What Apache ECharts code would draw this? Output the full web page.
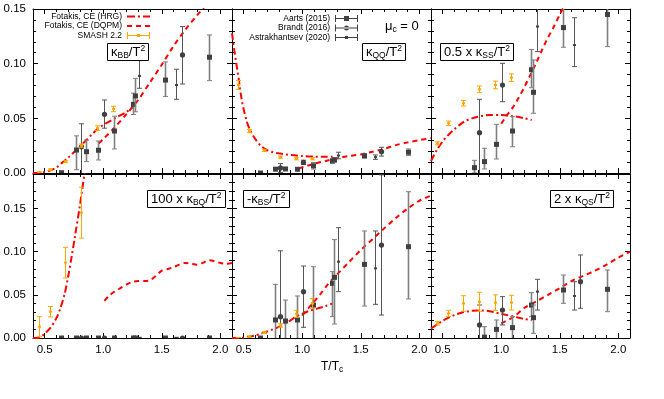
<!DOCTYPE html>
<html>
<head>
<meta charset="utf-8">
<title>susceptibilities vs T/Tc</title>
<script src="https://cdn.jsdelivr.net/npm/echarts@6.0.0/dist/echarts.min.js"></script>
<style>
  html, body { margin: 0; padding: 0; background: #ffffff; }
  #chart { width: 664px; height: 399px; }
</style>
</head>
<body>
<div id="chart"></div>
<script>
// temperatures (T/Tc) of the data sets
const aartsT = [0.64, 0.767, 0.853, 0.957, 1.095, 1.254, 1.27, 1.53, 1.905];
const brandtT = [0.807, 1.004, 1.67];
const astrT = [1.305, 1.625];
const smashT = [0.45, 0.543, 0.67, 0.806, 0.945, 1.08];

// kappa_BB / T^2
const bbHrgT = [0.4, 0.45, 0.5, 0.55, 0.6, 0.65, 0.7, 0.75, 0.8, 0.85, 0.9, 0.95, 1.0, 1.05, 1.1, 1.15, 1.2, 1.26];
const bbHrg = [0.0, 0.0003, 0.001, 0.0025, 0.005, 0.0095, 0.014, 0.019, 0.024, 0.0295, 0.035, 0.040, 0.044, 0.047, 0.050, 0.053, 0.056, 0.061];
const bbDqpmT = [0.96, 1.0, 1.1, 1.2, 1.3, 1.4, 1.5, 1.6, 1.7, 1.8, 1.9];
const bbDqpm = [0.027, 0.031, 0.042, 0.054, 0.067, 0.083, 0.099, 0.116, 0.131, 0.144, 0.156];
const bbAarts = [0.0003, 0.021, 0.0195, 0.0208, 0.0384, 0.0628, 0.0705, 0.085, 0.1059];
const bbAartsLo = [0.0, 0.003, 0.0104, 0.0119, 0.022, 0.0535, 0.056, 0.070, 0.0845];
const bbAartsHi = [0.0006, 0.034, 0.030, 0.0293, 0.052, 0.073, 0.0866, 0.1016, 0.1263];
const bbBrandt = [0.024, 0.0537, 0.108];
const bbBrandtLo = [-0.003, 0.041, 0.0814];
const bbBrandtHi = [0.045, 0.0668, 0.1339];
const bbAstr = [0.0888, 0.0805];
const bbAstrLo = [0.0775, 0.0674];
const bbAstrHi = [0.106, 0.0949];
const bbSmash = [0.0005, 0.003, 0.0105, 0.025, 0.041, 0.0586];
const bbSmashErr = [0.0005, 0.0008, 0.001, 0.0015, 0.0022, 0.0025];

// kappa_QQ / T^2
const qqHrgT = [0.4, 0.42, 0.44, 0.46, 0.48, 0.5, 0.53, 0.555, 0.6, 0.65, 0.7, 0.75, 0.8, 0.9, 1.0, 1.1, 1.2, 1.26];
const qqHrg = [0.128, 0.112, 0.098, 0.084, 0.069, 0.058, 0.046, 0.039, 0.031, 0.0245, 0.021, 0.019, 0.018, 0.0165, 0.0155, 0.015, 0.0148, 0.0148];
const qqDqpmT = [0.97, 1.0, 1.1, 1.2, 1.3, 1.4, 1.5, 1.6, 1.7, 1.8, 1.9, 2.0, 2.1];
const qqDqpm = [0.0043, 0.0052, 0.0085, 0.011, 0.0135, 0.0155, 0.017, 0.0195, 0.022, 0.0255, 0.028, 0.030, 0.032];
const qqAarts = [0.0, 0.0035, 0.0037, 0.0034, 0.0066, 0.011, 0.012, 0.0157, 0.019];
const qqAartsLo = [-0.0005, 0.0022, 0.0025, 0.0022, 0.0036, 0.009, 0.010, 0.0137, 0.016];
const qqAartsHi = [0.0005, 0.0048, 0.0049, 0.0046, 0.0096, 0.013, 0.014, 0.0177, 0.022];
const qqBrandt = [0.0046, 0.0097, 0.0195];
const qqBrandtLo = [0.0006, 0.0077, 0.0155];
const qqBrandtHi = [0.0086, 0.0117, 0.0235];
const qqAstr = [0.016, 0.0145];
const qqAstrLo = [0.013, 0.0125];
const qqAstrHi = [0.019, 0.0165];
const qqSmash = [0.0805, 0.0384, 0.0207, 0.0145, 0.013, 0.013];
const qqSmashErr = [0.004, 0.0015, 0.001, 0.001, 0.001, 0.001];

// 0.5 x kappa_SS / T^2
const ssHrgT = [0.4, 0.45, 0.5, 0.55, 0.6, 0.65, 0.7, 0.75, 0.8, 0.85, 0.9, 1.0, 1.1, 1.2, 1.26];
const ssHrg = [0.011, 0.021, 0.029, 0.035, 0.040, 0.0445, 0.048, 0.050, 0.0515, 0.0525, 0.053, 0.053, 0.052, 0.050, 0.0485];
const ssDqpmT = [1.0, 1.05, 1.1, 1.15, 1.2, 1.25, 1.3, 1.35, 1.4, 1.45, 1.5, 1.53];
const ssDqpm = [0.045, 0.053, 0.060, 0.069, 0.079, 0.090, 0.101, 0.113, 0.124, 0.134, 0.145, 0.151];
const ssAarts = [null, 0.0049, 0.0104, 0.0262, 0.0384, 0.0945, 0.0738, 0.133, 0.145];
const ssAartsLo = [null, 0.0, 0.0037, 0.0128, 0.024, 0.078, 0.0546, 0.115, 0.1156];
const ssAartsHi = [null, 0.0116, 0.0226, 0.0445, 0.0515, 0.113, 0.1034, 0.16, 0.175];
const ssBrandt = [0.0369, 0.0805, null];
const ssBrandtLo = [-0.003, 0.0652, null];
const ssBrandtHi = [0.0674, 0.1003, null];
const ssAstr = [0.134, 0.117];
const ssAstrLo = [0.111, 0.0973];
const ssAstrHi = [0.16, 0.142];
const ssSmash = [0.0271, 0.0455, 0.0638, 0.0765, 0.0805, 0.0872];
const ssSmashErr = [0.0015, 0.002, 0.0025, 0.003, 0.0035, 0.0035];

// 100 x kappa_BQ / T^2
const bqHrgT = [0.4, 0.43, 0.46, 0.5, 0.55, 0.6, 0.63, 0.67, 0.7, 0.73, 0.76, 0.8, 0.84, 0.86];
const bqHrg = [0.0, 0.0, 0.0005, 0.005, 0.012, 0.023, 0.033, 0.051, 0.071, 0.094, 0.119, 0.153, 0.19, 0.205];
const bqDqpmT = [1.01, 1.05, 1.1, 1.15, 1.2, 1.25, 1.3, 1.35, 1.4, 1.45, 1.5, 1.55, 1.6, 1.65, 1.7, 1.75, 1.8, 1.85, 1.9, 1.95, 2.0, 2.05, 2.1];
const bqDqpm = [0.043, 0.049, 0.054, 0.058, 0.062, 0.065, 0.066, 0.066, 0.067, 0.072, 0.078, 0.080, 0.082, 0.085, 0.087, 0.086, 0.085, 0.087, 0.090, 0.089, 0.087, 0.086, 0.087];
const bqAarts = [0, 0, 0, 0, 0, 0, 0, 0, 0];
const bqAartsLo = [-0.0008, -0.0008, -0.0008, -0.0008, -0.0008, -0.0008, -0.0008, -0.0008, -0.0008];
const bqAartsHi = [0.0008, 0.0008, 0.0008, 0.0008, 0.0008, 0.0008, 0.0008, 0.0008, 0.0008];
const bqBrandt = [0, 0, 0];
const bqBrandtLo = [-0.0008, -0.0008, -0.0008];
const bqBrandtHi = [0.0008, 0.0008, 0.0008];
const bqAstr = [0, 0];
const bqAstrLo = [-0.0008, -0.0008];
const bqAstrHi = [0.0008, 0.0008];
const bqSmash = [0.0131, 0.0305, 0.0873, 0.1452, null, null];
const bqSmashErr = [0.0116, 0.006, 0.0177, 0.0295, null, null];

// -kappa_BS / T^2
const bsHrgT = [0.4, 0.45, 0.5, 0.55, 0.6, 0.65, 0.7, 0.75, 0.8, 0.85, 0.9, 0.95, 1.0, 1.05, 1.1, 1.15, 1.2, 1.26];
const bsHrg = [0.0, 0.0, 0.0005, 0.0015, 0.003, 0.005, 0.0075, 0.010, 0.013, 0.0165, 0.0205, 0.025, 0.028, 0.031, 0.033, 0.035, 0.037, 0.040];
const bsDqpmT = [1.0, 1.05, 1.1, 1.15, 1.2, 1.25, 1.3, 1.4, 1.5, 1.6, 1.7, 1.8, 1.9, 2.0, 2.1];
const bsDqpm = [0.026, 0.034, 0.042, 0.050, 0.059, 0.067, 0.074, 0.088, 0.102, 0.1145, 0.127, 0.139, 0.150, 0.159, 0.165];
const bsAarts = [0.0, 0.0209, 0.0197, 0.0209, 0.0382, 0.0633, 0.0703, 0.0853, 0.1058];
const bsAartsLo = [-0.0005, -0.002, -0.002, -0.002, -0.002, 0.0247, 0.0162, 0.037, 0.0452];
const bsAartsHi = [0.0005, 0.0622, 0.044, 0.0487, 0.0826, 0.0769, 0.114, 0.124, 0.1695];
const bsBrandt = [0.0247, 0.0537, 0.1077];
const bsBrandtLo = [-0.005, 0.0124, 0.0266];
const bsBrandtHi = [0.101, 0.0834, 0.189];
const bsAstr = [0.0884, 0.0807];
const bsAstrLo = [0.0537, 0.039];
const bsAstrHi = [0.1278, 0.124];
const bsSmash = [0.0, 0.0015, 0.0062, 0.0145, 0.028, 0.040];
const bsSmashErr = [0.0005, 0.001, 0.001, 0.002, 0.004, 0.0055];

// 2 x kappa_QS / T^2
const qsHrgT = [0.4, 0.45, 0.5, 0.55, 0.6, 0.65, 0.7, 0.75, 0.8, 0.85, 0.9, 0.95, 1.0, 1.05, 1.1, 1.15, 1.2, 1.26];
const qsHrg = [0.011, 0.0155, 0.020, 0.0235, 0.0265, 0.029, 0.0305, 0.0315, 0.032, 0.0318, 0.031, 0.0295, 0.028, 0.0265, 0.025, 0.0235, 0.022, 0.0205];
const qsDqpmT = [1.0, 1.1, 1.2, 1.3, 1.4, 1.5, 1.6, 1.7, 1.8, 1.9, 2.0, 2.1];
const qsDqpm = [0.017, 0.024, 0.035, 0.0425, 0.050, 0.0577, 0.066, 0.072, 0.078, 0.085, 0.093, 0.100];
const qsAarts = [null, null, 0.001, 0.010, 0.012, 0.0382, 0.0236, 0.0556, 0.0564];
const qsAartsLo = [null, null, -0.005, -0.002, -0.002, 0.0247, 0.0054, 0.0402, 0.0305];
const qsAartsHi = [null, null, 0.0131, 0.0209, 0.0247, 0.0525, 0.0382, 0.073, 0.0788];
const qsBrandt = [0.0151, 0.0324, 0.0652];
const qsBrandtLo = [-0.002, 0.0151, 0.0344];
const qsBrandtHi = [0.0382, 0.0479, 0.0962];
const qsAstr = [0.0537, 0.0487];
const qsAstrLo = [0.0324, 0.0324];
const qsAstrHi = [0.068, 0.0652];
const qsSmash = [0.017, 0.0286, 0.040, 0.042, 0.041, 0.041];
const qsSmashErr = [0.002, 0.0035, 0.009, 0.011, 0.009, 0.0085];

// tick labels
const xTicks = [0.5, 1.0, 1.5, 2.0];
const yTicks = [0, 0.05, 0.10, 0.15];

const FONT = '"Liberation Sans", Arial, sans-serif';
const RED = '#ff0000';
const ORANGE = '#ffa500';
const MARK = '#404040';

const HRG = 'Fotakis, CE (HRG)';
const DQPM = 'Fotakis, CE (DQPM)';
const SMASH = 'SMASH 2.2';
const AARTS = 'Aarts (2015)';
const BRANDT = 'Brandt (2016)';
const ASTR = 'Astrakhantsev (2020)';

const panels = [
  { hrg: [bbHrgT, bbHrg], dqpm: [bbDqpmT, bbDqpm], aarts: [bbAarts, bbAartsLo, bbAartsHi], brandt: [bbBrandt, bbBrandtLo, bbBrandtHi], astr: [bbAstr, bbAstrLo, bbAstrHi], smash: [bbSmash, bbSmashErr], ymax: 0.15 },
  { hrg: [qqHrgT, qqHrg], dqpm: [qqDqpmT, qqDqpm], aarts: [qqAarts, qqAartsLo, qqAartsHi], brandt: [qqBrandt, qqBrandtLo, qqBrandtHi], astr: [qqAstr, qqAstrLo, qqAstrHi], smash: [qqSmash, qqSmashErr], ymax: 0.15 },
  { hrg: [ssHrgT, ssHrg], dqpm: [ssDqpmT, ssDqpm], aarts: [ssAarts, ssAartsLo, ssAartsHi], brandt: [ssBrandt, ssBrandtLo, ssBrandtHi], astr: [ssAstr, ssAstrLo, ssAstrHi], smash: [ssSmash, ssSmashErr], ymax: 0.15 },
  { hrg: [bqHrgT, bqHrg], dqpm: [bqDqpmT, bqDqpm], aarts: [bqAarts, bqAartsLo, bqAartsHi], brandt: [bqBrandt, bqBrandtLo, bqBrandtHi], astr: [bqAstr, bqAstrLo, bqAstrHi], smash: [bqSmash, bqSmashErr], ymax: 0.19 },
  { hrg: [bsHrgT, bsHrg], dqpm: [bsDqpmT, bsDqpm], aarts: [bsAarts, bsAartsLo, bsAartsHi], brandt: [bsBrandt, bsBrandtLo, bsBrandtHi], astr: [bsAstr, bsAstrLo, bsAstrHi], smash: [bsSmash, bsSmashErr], ymax: 0.19 },
  { hrg: [qsHrgT, qsHrg], dqpm: [qsDqpmT, qsDqpm], aarts: [qsAarts, qsAartsLo, qsAartsHi], brandt: [qsBrandt, qsBrandtLo, qsBrandtHi], astr: [qsAstr, qsAstrLo, qsAstrHi], smash: [qsSmash, qsSmashErr], ymax: 0.19 }
];

const boxes = [[33, 9], [232, 9], [431, 9], [33, 174], [232, 174], [431, 174]];

function zip(xs, ys) {
  return xs.map((x, k) => [x, ys[k]]);
}
function errData(ts, v) {
  const out = [];
  ts.forEach((t, k) => { if (v[0][k] != null) out.push([t, v[0][k], v[1][k], v[2][k]]); });
  return out;
}
function symErr(ts, v) {
  const out = [];
  ts.forEach((t, k) => { if (v[0][k] != null) out.push([t, v[0][k], v[0][k] - v[1][k], v[0][k] + v[1][k]]); });
  return out;
}

function errRender(marker, barColor, barWidth, markColor, cap) {
  return function (params, api) {
    const c = api.coord([api.value(0), api.value(1)]);
    const a = api.coord([api.value(0), api.value(2)]);
    const b = api.coord([api.value(0), api.value(3)]);
    const x = Math.round(c[0]) + 0.5;
    const kids = [
      { type: 'line', shape: { x1: x, y1: a[1], x2: x, y2: b[1] }, style: { stroke: barColor, lineWidth: barWidth } },
      { type: 'line', shape: { x1: x - cap, y1: a[1], x2: x + cap, y2: a[1] }, style: { stroke: barColor, lineWidth: 1 } },
      { type: 'line', shape: { x1: x - cap, y1: b[1], x2: x + cap, y2: b[1] }, style: { stroke: barColor, lineWidth: 1 } }
    ];
    if (marker === 'square') {
      kids.push({ type: 'rect', shape: { x: x - 2.5, y: c[1] - 2.5, width: 5, height: 5 }, style: { fill: markColor } });
    } else if (marker === 'circle') {
      kids.push({ type: 'circle', shape: { cx: x, cy: c[1], r: 2.6 }, style: { fill: markColor } });
    } else {
      kids.push({ type: 'rect', shape: { x: x - 1.5, y: c[1] - 1, width: 3, height: 2 }, style: { fill: markColor } });
    }
    return { type: 'group', children: kids };
  };
}

const xAxis = [], yAxis = [], grid = [], series = [];
const axisBlack = { color: '#000', width: 1 };

boxes.forEach((b, i) => {
  const p = panels[i];
  grid.push({ left: b[0], top: b[1], width: 199, height: 164 });
  const showX = i >= 3, showY = i % 3 === 0;
  ['bottom', 'top'].forEach(pos => {
    xAxis.push({
      gridIndex: i, type: 'value', min: 0.4, max: 2.1, position: pos,
      axisLine: { show: true, onZero: false, lineStyle: axisBlack },
      axisTick: { show: true, inside: true, length: 5, customValues: xTicks, lineStyle: axisBlack },
      axisLabel: { show: showX && pos === 'bottom', customValues: xTicks, margin: 6, color: '#000', fontSize: 11.5, fontFamily: FONT, formatter: v => v.toFixed(1) },
      splitLine: { show: false }
    });
    xAxis.push({
      gridIndex: i, type: 'value', min: 0.4, max: 2.1, interval: 0.1, position: pos,
      axisLine: { show: false, onZero: false },
      axisTick: { show: true, inside: true, length: 3, lineStyle: axisBlack },
      axisLabel: { show: false }, splitLine: { show: false }
    });
  });
  ['left', 'right'].forEach(pos => {
    yAxis.push({
      gridIndex: i, type: 'value', min: 0, max: p.ymax, position: pos,
      axisLine: { show: true, onZero: false, lineStyle: axisBlack },
      axisTick: { show: true, inside: true, length: 5, customValues: yTicks, lineStyle: axisBlack },
      axisLabel: { show: showY && pos === 'left', customValues: yTicks, margin: 7, color: '#000', fontSize: 11.5, fontFamily: FONT, formatter: v => v.toFixed(2) },
      splitLine: { show: false }
    });
    yAxis.push({
      gridIndex: i, type: 'value', min: 0, max: p.ymax, interval: 0.01, position: pos,
      axisLine: { show: false, onZero: false },
      axisTick: { show: true, inside: true, length: 3, lineStyle: axisBlack },
      axisLabel: { show: false }, splitLine: { show: false }
    });
  });
  const ax = { xAxisIndex: 4 * i, yAxisIndex: 4 * i };
  series.push(Object.assign({
    type: 'line', name: HRG, data: zip(p.hrg[0], p.hrg[1]), symbol: 'none', smooth: 0.3,
    lineStyle: { color: RED, width: 2, type: [7, 3, 2, 3] }, itemStyle: { color: RED }, z: 3
  }, ax));
  series.push(Object.assign({
    type: 'line', name: DQPM, data: zip(p.dqpm[0], p.dqpm[1]), symbol: 'none', smooth: 0.3,
    lineStyle: { color: RED, width: 2, type: [5, 4] }, itemStyle: { color: RED }, z: 3
  }, ax));
  series.push(Object.assign({
    type: 'custom', name: AARTS, data: errData(aartsT, p.aarts), clip: true, encode: { x: 0, y: 1 },
    renderItem: errRender('square', '#808080', 1.6, MARK, 2.5), itemStyle: { color: MARK }, z: 4
  }, ax));
  series.push(Object.assign({
    type: 'custom', name: BRANDT, data: errData(brandtT, p.brandt), clip: true, encode: { x: 0, y: 1 },
    renderItem: errRender('circle', '#555555', 1, MARK, 2.5), itemStyle: { color: MARK }, z: 4
  }, ax));
  series.push(Object.assign({
    type: 'custom', name: ASTR, data: errData(astrT, p.astr), clip: true, encode: { x: 0, y: 1 },
    renderItem: errRender('tiny', '#555555', 1, MARK, 2.5), itemStyle: { color: MARK }, z: 4
  }, ax));
  series.push(Object.assign({
    type: 'custom', name: SMASH, data: symErr(smashT, p.smash), clip: true, encode: { x: 0, y: 1 },
    renderItem: errRender('tiny', ORANGE, 1, ORANGE, 2.5), itemStyle: { color: ORANGE }, z: 5
  }, ax));
});

// legend icons (filled paths, 23 x 8 box)
const corners = 'M0,0H0.01V0.01H0Z M22.99,7.99H23V8H22.99Z ';
const iconDashDot = 'path://' + corners + 'M0,3H8V5H0Z M11,3H13V5H11Z M16,3H23V5H16Z';
const iconDash = 'path://' + corners + 'M0,3H5V5H0Z M9,3H14V5H9Z M18,3H23V5H18Z';
const barPath = 'M0,3.5H23V4.5H0Z M0,0.5H1V7.5H0Z M22,0.5H23V7.5H22Z ';
const iconSquare = 'path://' + barPath + 'M9,1.5H14V6.5H9Z';
const iconCircle = 'path://' + barPath + 'M9,4A2.5,2.5 0 1 0 14,4A2.5,2.5 0 1 0 9,4Z';
const iconTiny = 'path://' + barPath + 'M10,2.5H13V5.5H10Z';

const legendText = { fontSize: 8.5, fontFamily: FONT, color: '#000', lineHeight: 9 };

const rich = {
  m: { fontSize: 13, fontFamily: FONT, fontWeight: 'normal', color: '#000', lineHeight: 16 },
  s: { fontSize: 8.5, fontFamily: FONT, fontWeight: 'normal', color: '#000', verticalAlign: 'bottom' },
  p: { fontSize: 8.5, fontFamily: FONT, fontWeight: 'normal', color: '#000', verticalAlign: 'top' }
};
function boxTitle(text, left, top) {
  return {
    text: text, left: left, top: top, padding: [1, 4, 1, 4],
    borderColor: '#000', borderWidth: 1, backgroundColor: '#fff',
    textStyle: { fontWeight: 'normal', rich: rich }
  };
}

const option = {
  animation: false,
  backgroundColor: '#fff',
  grid: grid,
  xAxis: xAxis,
  yAxis: yAxis,
  legend: [
    {
      orient: 'vertical', align: 'right', right: 509, top: 7,
      itemWidth: 23, itemHeight: 8, itemGap: 0.5, selectedMode: false,
      textStyle: legendText,
      data: [{ name: HRG, icon: iconDashDot }, { name: DQPM, icon: iconDash }, { name: SMASH, icon: iconTiny }]
    },
    {
      orient: 'vertical', align: 'right', right: 301, top: 9,
      itemWidth: 23, itemHeight: 8, itemGap: 0.5, selectedMode: false,
      textStyle: legendText,
      data: [{ name: AARTS, icon: iconSquare }, { name: BRANDT, icon: iconCircle }, { name: ASTR, icon: iconTiny }]
    }
  ],
  title: [
    boxTitle('{m|κ}{s|BB}{m|/T}{p|2}', 107, 43),
    boxTitle('{m|κ}{s|QQ}{m|/T}{p|2}', 362, 43),
    boxTitle('{m|0.5 x κ}{s|SS}{m|/T}{p|2}', 440, 43),
    boxTitle('{m|100 x κ}{s|BQ}{m|/T}{p|2}', 147, 190),
    boxTitle('{m|-κ}{s|BS}{m|/T}{p|2}', 243, 190),
    boxTitle('{m|2 x κ}{s|QS}{m|/T}{p|2}', 550, 190),
    { text: '{m|μ}{s|c}{m| = 0}', left: 385, top: 18, padding: 0, textStyle: { fontWeight: 'normal', rich: rich } },
    {
      text: '{m|T/T}{s|c}', left: 321, top: 359, padding: 0,
      textStyle: { fontWeight: 'normal', rich: { m: { fontSize: 12, fontFamily: FONT, fontWeight: 'normal', color: '#000', lineHeight: 15 }, s: { fontSize: 8.5, fontFamily: FONT, fontWeight: 'normal', color: '#000', verticalAlign: 'bottom' } } }
    }
  ],
  series: series
};

const chart = echarts.init(document.getElementById('chart'), null, { renderer: 'canvas' });
chart.setOption(option);
</script>
</body>
</html>
